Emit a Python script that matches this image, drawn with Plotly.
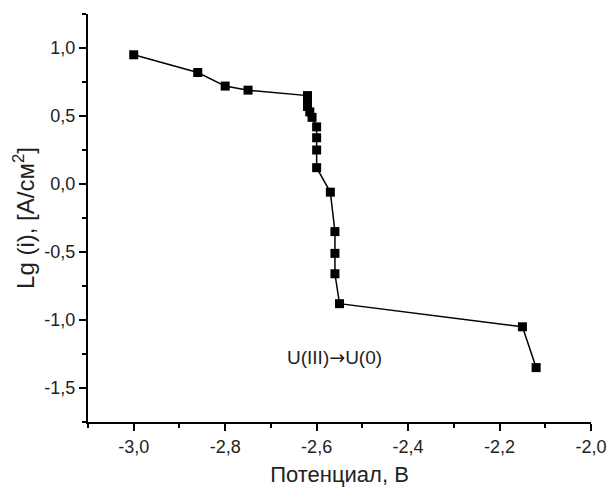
import plotly.graph_objects as go

potential = [-3.00, -2.86, -2.80, -2.75, -2.62, -2.62, -2.62, -2.615, -2.61,
             -2.60, -2.60, -2.60, -2.60, -2.57, -2.56, -2.56, -2.56, -2.55,
             -2.15, -2.12]
lg_i = [0.95, 0.82, 0.72, 0.69, 0.65, 0.61, 0.57, 0.53, 0.49,
        0.42, 0.34, 0.25, 0.12, -0.06, -0.35, -0.51, -0.66, -0.88,
        -1.05, -1.35]

x_tickvals = [-3.0, -2.8, -2.6, -2.4, -2.2, -2.0]
x_ticktext = ["-3,0", "-2,8", "-2,6", "-2,4", "-2,2", "-2,0"]
y_tickvals = [1.0, 0.5, 0.0, -0.5, -1.0, -1.5]
y_ticktext = ["1,0", "0,5", "0,0", "-0,5", "-1,0", "-1,5"]

fig = go.Figure()
fig.add_trace(go.Scatter(
    x=potential, y=lg_i, mode="lines+markers",
    line=dict(color="black", width=1.5),
    marker=dict(symbol="square", size=9, color="black"),
    showlegend=False,
))

fig.add_annotation(x=-2.56, y=-1.27,
                   text="U(III)<span style=\"font-family:DejaVu Sans\">→</span>U(0)",
                   showarrow=False, font=dict(size=19, color="#222"))

tick_font = dict(family="Liberation Sans, Arial", size=18, color="#222")
fig.update_layout(
    width=612, height=491,
    margin=dict(l=88, r=21, t=14, b=69),
    paper_bgcolor="white", plot_bgcolor="white",
    font=dict(family="Liberation Sans, Arial", color="#222"),
    xaxis=dict(
        range=[-3.1, -2.0], tickmode="array", tickvals=x_tickvals, ticktext=x_ticktext,
        ticks="outside", ticklen=7, tickwidth=1.5, tickcolor="black",
        showline=True, linecolor="black", linewidth=2, showgrid=False, zeroline=False,
        minor=dict(dtick=0.1, tick0=-3.0, ticks="outside", ticklen=4, tickcolor="black", tickwidth=1.5),
        tickfont=tick_font, automargin=False,
        title=dict(text="Потенциал, В", font=dict(size=22, color="#222"), standoff=11),
    ),
    yaxis=dict(
        range=[-1.75, 1.25], tickmode="array", tickvals=y_tickvals, ticktext=y_ticktext,
        ticks="outside", ticklen=7, tickwidth=1.5, tickcolor="black",
        showline=True, linecolor="black", linewidth=2, showgrid=False, zeroline=False,
        minor=dict(dtick=0.25, tick0=0, ticks="outside", ticklen=4, tickcolor="black", tickwidth=1.5),
        tickfont=tick_font, automargin=False,
        title=dict(text="Lg (i), [A/см<sup>2</sup>]", font=dict(size=24, color="#222"), standoff=3),
    ),
)

fig.write_html("out.html", config={"displayModeBar": False},
               post_script="document.body.style.margin='0';")
